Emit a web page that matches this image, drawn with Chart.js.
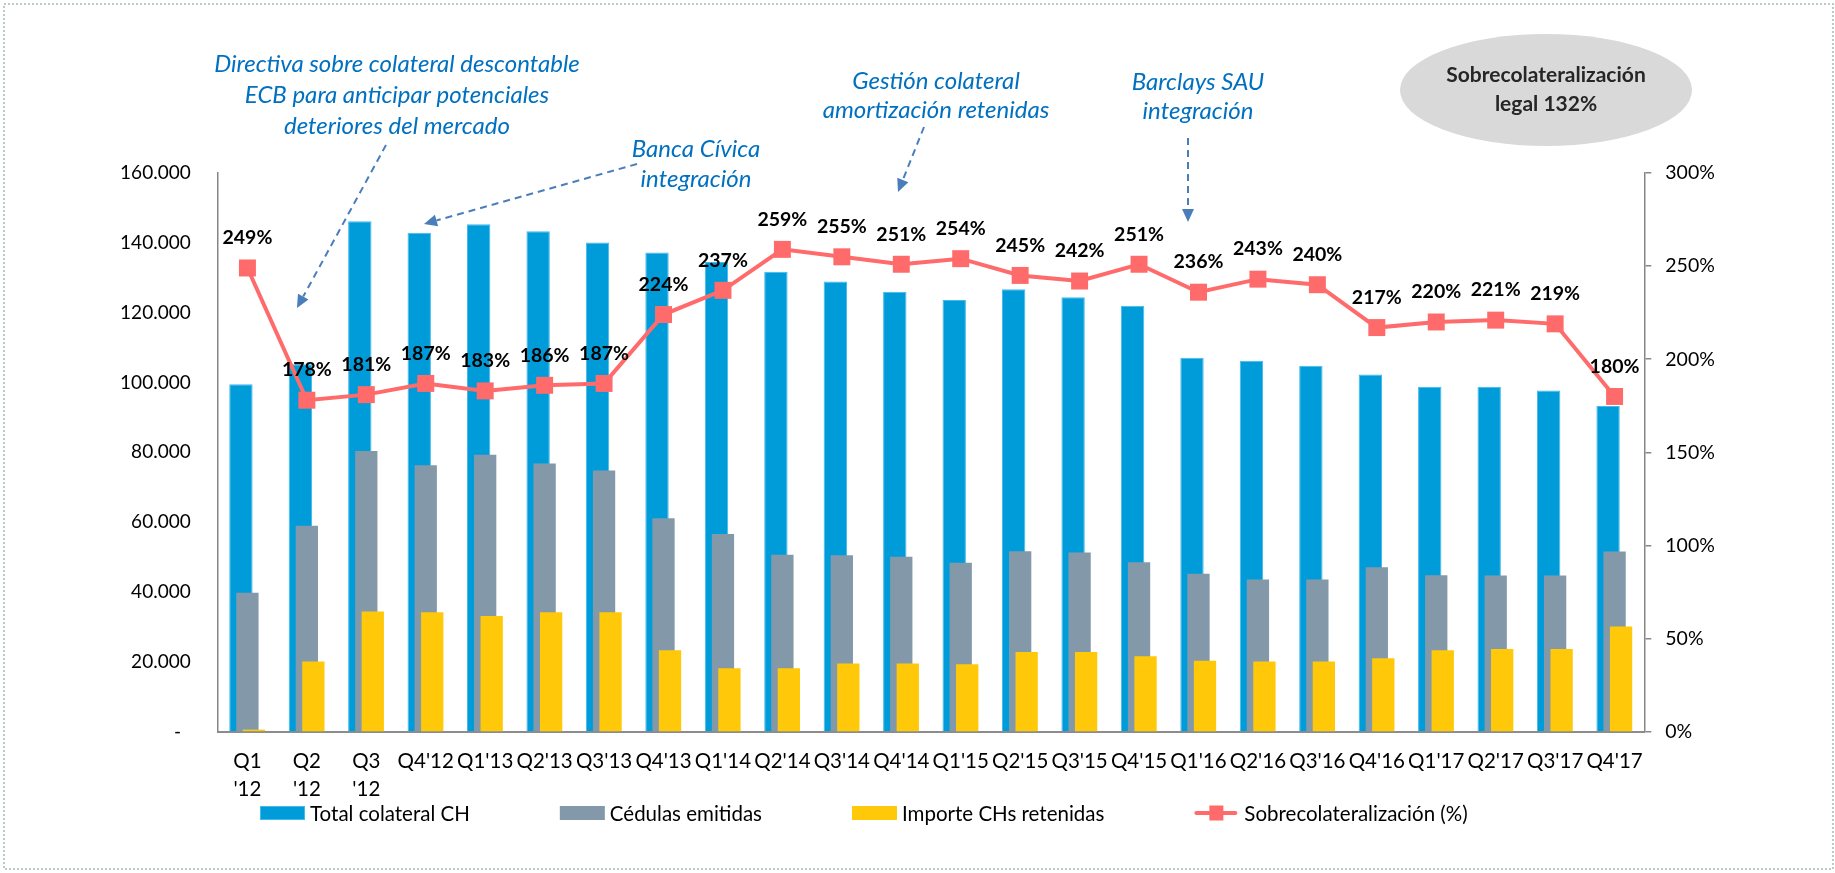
<!DOCTYPE html>
<html>
<head>
<meta charset="utf-8">
<script src="https://cdn.jsdelivr.net/npm/chart.js@4.4.1/dist/chart.umd.min.js"></script>
<style>
  html, body { margin: 0; padding: 0; background: #fff; }
  canvas { display: block; }
</style>
</head>
<body>
<canvas id="chart" width="1835" height="873"></canvas>
<script>
// quarters, the first three wrap onto two lines like in the original
const quarters = [["Q1", "'12"], ["Q2", "'12"], ["Q3", "'12"], "Q4'12",
  "Q1'13", "Q2'13", "Q3'13", "Q4'13", "Q1'14", "Q2'14", "Q3'14", "Q4'14",
  "Q1'15", "Q2'15", "Q3'15", "Q4'15", "Q1'16", "Q2'16", "Q3'16", "Q4'16",
  "Q1'17", "Q2'17", "Q3'17", "Q4'17"];

// millions of euros
const totalColateral = [99500, 105200, 146200, 142900, 145300, 143300, 140100, 137200,
  134500, 131700, 128900, 126000, 123600, 126700, 124400, 122000,
  107100, 106200, 104800, 102300, 98800, 98800, 97700, 93300];
const cedulasEmitidas = [39800, 59000, 80400, 76300, 79300, 76800, 74800, 61100,
  56600, 50700, 50500, 50100, 48400, 51700, 51300, 48500,
  45200, 43600, 43600, 47100, 44800, 44700, 44700, 51600];
const chsRetenidas = [600, 20100, 34400, 34200, 33100, 34200, 34200, 23300,
  18200, 18200, 19500, 19500, 19300, 22800, 22800, 21600,
  20300, 20100, 20100, 21000, 23300, 23700, 23700, 30100];
// %
const sobrecolateralizacion = [249, 178, 181, 187, 183, 186, 187, 224, 237, 259, 255, 251,
  254, 245, 242, 251, 236, 243, 240, 217, 220, 221, 219, 180];

const FONT = 'Lato, "Open Sans", sans-serif';
const BLUE = '#009CDA', GREY = '#8399AA', YELLOW = '#FFC90A', RED = '#FF6B6B';
const ANNOT = '#0070C0', ARROW = '#4A7EBB';

function dashedArrow(ctx, x1, y1, x2, y2) {
  const a = Math.atan2(y2 - y1, x2 - x1);
  const head = 13, half = 6;
  const bx = x2 - head * Math.cos(a), by = y2 - head * Math.sin(a);
  ctx.save();
  ctx.strokeStyle = ARROW; ctx.fillStyle = ARROW; ctx.lineWidth = 2;
  ctx.setLineDash([7, 5]);
  ctx.beginPath(); ctx.moveTo(x1, y1); ctx.lineTo(bx, by); ctx.stroke();
  ctx.setLineDash([]);
  ctx.beginPath();
  ctx.moveTo(x2, y2);
  ctx.lineTo(bx + half * Math.sin(a), by - half * Math.cos(a));
  ctx.lineTo(bx - half * Math.sin(a), by + half * Math.cos(a));
  ctx.closePath(); ctx.fill();
  ctx.restore();
}

function textLines(ctx, lines, x, y0, step) {
  lines.forEach((t, i) => ctx.fillText(t, x, y0 + i * step));
}

// white page with the dotted frame
const frame = {
  id: 'frame',
  beforeDraw(chart) {
    const ctx = chart.ctx;
    ctx.save();
    ctx.fillStyle = '#fff';
    ctx.fillRect(0, 0, chart.width, chart.height);
    ctx.strokeStyle = '#A3B9B8'; ctx.lineWidth = 1.5; ctx.setLineDash([2, 2]);
    ctx.strokeRect(4, 4, chart.width - 6, chart.height - 8);
    ctx.restore();
  }
};

// bars overlap: draw left to right so the right bar sits on top, then the line
const layers = {
  id: 'layers',
  beforeDatasetDraw() { return false; },
  afterDatasetsDraw(chart) {
    chart.data.datasets.forEach((ds, i) => chart.getDatasetMeta(i).controller.draw());
    const ctx = chart.ctx;
    const meta = chart.getDatasetMeta(3);
    ctx.save();
    ctx.font = 'bold 19.5px ' + FONT;
    ctx.fillStyle = '#000'; ctx.textAlign = 'center'; ctx.textBaseline = 'middle';
    meta.data.forEach((pt, i) => ctx.fillText(sobrecolateralizacion[i] + '%', pt.x, pt.y - 30));
    ctx.restore();
  }
};

// one-row legend under the axis, Excel style (wide swatches, wide gaps)
const legendRow = {
  id: 'legendRow',
  afterDraw(chart) {
    const ctx = chart.ctx;
    const y = 813;
    let x = 260;
    ctx.save();
    ctx.font = '20.5px ' + FONT;
    ctx.textAlign = 'left'; ctx.textBaseline = 'middle';
    chart.data.datasets.forEach((ds) => {
      if (ds.type === 'line') {
        ctx.strokeStyle = ds.borderColor; ctx.lineWidth = 4; ctx.lineCap = 'round';
        ctx.beginPath(); ctx.moveTo(x + 2, y); ctx.lineTo(x + 41, y); ctx.stroke();
        ctx.fillStyle = ds.borderColor; ctx.fillRect(x + 15, y - 7.5, 14, 15);
      } else {
        ctx.fillStyle = ds.backgroundColor; ctx.fillRect(x, y - 7, 45, 14);
        if (ds.borderWidth) {
          ctx.strokeStyle = ds.borderColor; ctx.lineWidth = 1;
          ctx.strokeRect(x + 0.5, y - 6.5, 44, 13);
        }
      }
      ctx.fillStyle = '#000';
      ctx.fillText(ds.label, x + 50, y + 1);
      x += 50 + ctx.measureText(ds.label).width + 90;
    });
    ctx.restore();
  }
};

// call-outs and the legal ratio bubble
const notes = {
  id: 'notes',
  afterDraw(chart) {
    const ctx = chart.ctx;
    ctx.save();
    ctx.font = 'italic 24px ' + FONT;
    ctx.fillStyle = ANNOT; ctx.textAlign = 'center'; ctx.textBaseline = 'middle';
    textLines(ctx, ['Directiva sobre colateral descontable', 'ECB para anticipar potenciales', 'deteriores del mercado'], 397, 64, 31);
    textLines(ctx, ['Banca Cívica', 'integración'], 696, 149, 30);
    textLines(ctx, ['Gestión colateral', 'amortización retenidas'], 936, 81, 29);
    textLines(ctx, ['Barclays SAU', 'integración'], 1198, 82, 29);

    dashedArrow(ctx, 386, 145, 297, 308);
    dashedArrow(ctx, 637, 164, 424, 224);
    dashedArrow(ctx, 924, 127, 898, 192);
    dashedArrow(ctx, 1188, 138, 1188, 222);

    ctx.fillStyle = '#D9D9D9';
    ctx.beginPath(); ctx.ellipse(1546, 90, 146, 56, 0, 0, Math.PI * 2); ctx.fill();
    ctx.fillStyle = '#262626';
    ctx.font = 'bold 21px ' + FONT;
    textLines(ctx, ['Sobrecolateralización', 'legal 132%'], 1546, 75, 29);
    ctx.restore();
  }
};

new Chart(document.getElementById('chart'), {
  type: 'bar',
  data: {
    labels: quarters,
    datasets: [
      { label: 'Total colateral CH', data: totalColateral, yAxisID: 'y',
        backgroundColor: BLUE, borderColor: '#43B9EC', borderWidth: 1,
        categoryPercentage: 0.328, barPercentage: 3.6 },
      { label: 'Cédulas emitidas', data: cedulasEmitidas, yAxisID: 'y',
        backgroundColor: GREY, borderWidth: 0,
        categoryPercentage: 0.328, barPercentage: 3.43 },
      { label: 'Importe CHs retenidas', data: chsRetenidas, yAxisID: 'y',
        backgroundColor: YELLOW, borderWidth: 0,
        categoryPercentage: 0.328, barPercentage: 3.43 },
      { type: 'line', label: 'Sobrecolateralización (%)', data: sobrecolateralizacion, yAxisID: 'y1',
        borderColor: RED, backgroundColor: RED, borderWidth: 4, tension: 0,
        pointStyle: 'rect', pointRadius: 12, pointBorderWidth: 0, pointBackgroundColor: RED }
    ]
  },
  options: {
    responsive: false,
    animation: false,
    layout: { padding: { top: 173, bottom: 66.3, left: 0, right: 0 } },
    plugins: {
      tooltip: { enabled: false },
      legend: { display: false }
    },
    scales: {
      x: {
        grid: { drawOnChartArea: false, drawTicks: false },
        border: { color: '#8C8C8C', width: 2 },
        ticks: { color: '#000', padding: 14.8, maxRotation: 0, autoSkip: false,
          font: { family: FONT, size: 20.5, lineHeight: 1.41 } },
        afterFit: (s) => { s.height = 75; }
      },
      y: {
        position: 'left', min: 0, max: 160000,
        grid: { drawOnChartArea: false, drawTicks: false },
        border: { color: '#868686', width: 1.5 },
        ticks: { stepSize: 20000, padding: 27, color: '#000',
          font: { family: FONT, size: 19 },
          callback: (v) => v === 0 ? '-  ' : (v / 1000) + '.000' },
        afterFit: (s) => { s.width = 217.7; }
      },
      y1: {
        position: 'right', min: 0, max: 300,
        grid: { drawOnChartArea: false, drawTicks: true, tickLength: 7, color: '#868686', lineWidth: 1.5 },
        border: { color: '#868686', width: 1.5 },
        ticks: { stepSize: 50, padding: 14, color: '#000',
          font: { family: FONT, size: 19.5 },
          callback: (v) => v + '%' },
        afterFit: (s) => { s.width = 1835 - 1644.3; }
      }
    }
  },
  plugins: [frame, layers, legendRow, notes]
});
</script>
</body>
</html>
